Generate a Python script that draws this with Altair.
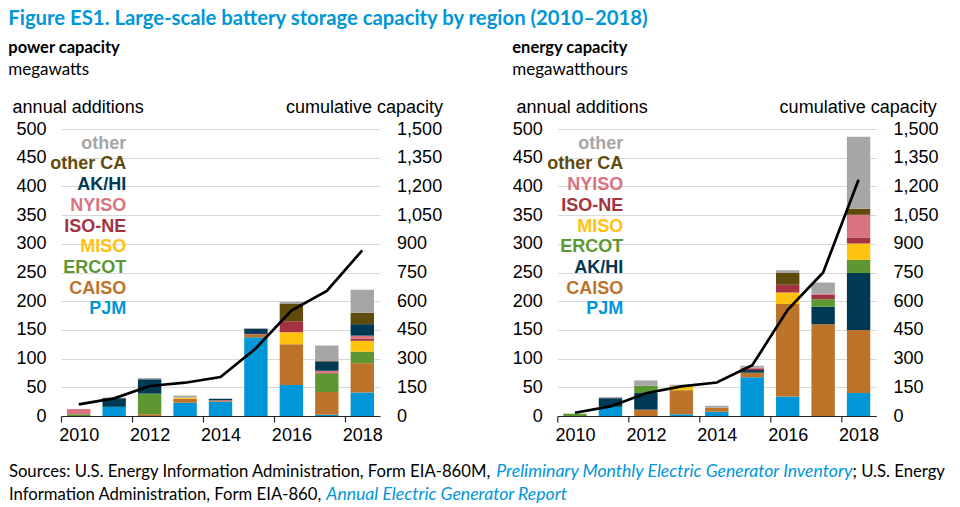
import altair as alt
import pandas as pd

years = [2010, 2011, 2012, 2013, 2014, 2015, 2016, 2017, 2018]
label_years = [2010, 2012, 2014, 2016, 2018]

# power capacity (megawatts), annual additions by region
power_pjm = [0, 16, 0, 23, 25, 137, 54, 2, 41]
power_caiso = [0, 0, 3, 7, 1, 5, 71, 40, 51]
power_ercot = [3, 0, 36, 0, 0, 0, 0, 32, 20]
power_miso = [0, 0, 0, 2, 0, 0, 21, 0, 19]
power_isone = [0, 0, 0, 0, 0, 1, 19, 2, 4]
power_nyiso = [9, 0, 0, 0, 1.5, 0, 0, 3, 5]
power_akhi = [0, 15, 25, 0, 2.5, 9, 0, 16, 20]
power_otherca = [0, 0, 0, 0, 0, 0, 30, 1, 20]
power_other = [0, 1, 2, 3.5, 0, 1, 4, 27, 40]
power_cumulative = [61, 92, 157, 174, 204, 354, 551, 654, 866]

# energy capacity (megawatthours), annual additions by region
energy_pjm = [0, 16, 0, 3, 7.5, 67.5, 34, 0, 40]
energy_caiso = [0, 0, 11, 42, 7, 8, 161, 160, 110]
energy_akhi = [0, 15, 29, 0, 0, 4.5, 0, 30.5, 99]
energy_ercot = [4, 0, 13, 0, 0, 0, 0, 13, 23]
energy_miso = [0, 0, 0, 7.5, 0, 0, 20, 0, 28.5]
energy_isone = [0, 0, 0, 0, 0, 3, 13.5, 8, 10.5]
energy_nyiso = [0, 0, 0, 0, 0, 1.5, 0, 1.5, 39.5]
energy_otherca = [0, 0, 0, 0, 0, 0, 20.5, 0, 10.5]
energy_other = [0, 2, 9, 2, 3.5, 3, 5, 19.5, 125.5]
energy_cumulative = [17, 50, 119, 155, 175, 265, 555, 750, 1235]

region_colors = {
    "PJM": "#0096D7",
    "CAISO": "#BD732A",
    "ERCOT": "#5D9732",
    "MISO": "#FFC20E",
    "ISO-NE": "#A33340",
    "NYISO": "#D9737F",
    "AK/HI": "#003953",
    "other CA": "#5F4B0B",
    "other": "#A6A6A6",
}

# stack order, bottom to top
power_series = [
    ("PJM", power_pjm), ("CAISO", power_caiso), ("ERCOT", power_ercot),
    ("MISO", power_miso), ("ISO-NE", power_isone), ("NYISO", power_nyiso),
    ("AK/HI", power_akhi), ("other CA", power_otherca), ("other", power_other),
]
energy_series = [
    ("PJM", energy_pjm), ("CAISO", energy_caiso), ("AK/HI", energy_akhi),
    ("ERCOT", energy_ercot), ("MISO", energy_miso), ("ISO-NE", energy_isone),
    ("NYISO", energy_nyiso), ("other CA", energy_otherca), ("other", energy_other),
]

TEXT_FONT = "Lato"
AXIS_FONT = "Liberation Sans"
BLUE = "#0096D7"
W, H = 319, 287
HALF_STEP = W / len(years) / 2


def long_table(series):
    rows = []
    for idx, (region, vals) in enumerate(series):
        for yr, v in zip(years, vals):
            if v > 0:
                rows.append({"year": yr, "region": region, "value": v, "idx": idx})
    return pd.DataFrame(rows)


def note(text, x, y, size, weight="normal", color="black", align="left",
         font=TEXT_FONT, style="normal"):
    return alt.Chart(pd.DataFrame({"t": [text]})).mark_text(
        align=align, baseline="alphabetic", fontSize=size, fontWeight=weight,
        font=font, color=color, fontStyle=style,
    ).encode(x=alt.value(x), y=alt.value(y), text="t:N")


def panel(series, cumulative, header, unit, legend_right, left_x, right_x, extra):
    regions = [r for r, _ in series]
    color = alt.Color("region:N", legend=None,
                      scale=alt.Scale(domain=regions, range=[region_colors[r] for r in regions]))
    x = alt.X("year:O", title=None,
              scale=alt.Scale(paddingInner=0, paddingOuter=0),
              axis=alt.Axis(values=label_years, tickOffset=-HALF_STEP, labelOffset=HALF_STEP,
                            labelAngle=0, labelPadding=4.5, tickSize=6, tickWidth=1.2,
                            tickColor="#262626", domainColor="#262626", domainWidth=1.2,
                            labelOverlap=False, labelFont=AXIS_FONT, labelFontSize=18,
                            labelColor="#000000", grid=False))

    bars = alt.Chart(long_table(series)).mark_bar(
        width=alt.RelativeBandSize(band=0.66)
    ).encode(
        x=x,
        y=alt.Y("value:Q", stack="zero", title=None,
                scale=alt.Scale(domain=[0, 500], nice=False),
                axis=alt.Axis(values=list(range(0, 501, 50)), domain=False, ticks=False,
                              tickSize=0, labelPadding=15, grid=True, gridColor="#D9D9D9",
                              gridWidth=1, labelFont=AXIS_FONT, labelFontSize=18,
                              labelColor="#000000")),
        color=color,
        order=alt.Order("idx:Q"),
    )

    line = alt.Chart(pd.DataFrame({"year": years, "cumulative": cumulative})).mark_line(
        color="black", strokeWidth=2.7
    ).encode(
        x=x,
        y=alt.Y("cumulative:Q", title=None,
                scale=alt.Scale(domain=[0, 1500], nice=False),
                axis=alt.Axis(orient="right", values=list(range(0, 1501, 150)), format=",.0f",
                              domain=False, ticks=False, tickSize=0, labelPadding=16.6,
                              grid=False, labelFont=AXIS_FONT, labelFontSize=18,
                              labelColor="#000000")),
    )

    legend = alt.Chart(
        pd.DataFrame({"region": regions[::-1], "rank": list(range(len(regions)))})
    ).transform_calculate(
        ypix="14.7 + datum.rank * 20.7"
    ).mark_text(
        align="right", baseline="middle", font=AXIS_FONT, fontSize=18, fontWeight="bold"
    ).encode(
        x=alt.value(legend_right),
        y=alt.Y("ypix:Q", scale=None, axis=None),
        text="region:N",
        color=color,
    )

    layers = [
        bars, line, legend,
        note(header, left_x, -76.4, 16.5, weight="bold"),
        note(unit, left_x, -54.3, 17),
        note("annual additions", left_x + 4.3, -16, 18, font=AXIS_FONT),
        note("cumulative capacity", right_x, -16, 18, font=AXIS_FONT, align="right"),
    ] + extra
    return alt.layer(*layers).resolve_scale(y="independent").properties(width=W, height=H)


# invisible anchor that fixes the top-left corner of the page layout
anchor = alt.Chart(pd.DataFrame({"a": [0]})).mark_rule(strokeOpacity=0).encode(
    x=alt.value(-52.7), x2=alt.value(-50), y=alt.value(-120.8)
)

FOOT = 16.7
FOOT_IT = 17.6
title_and_footer = [
    anchor,
    note("Figure ES1. Large-scale battery storage capacity by region (2010\u20132018)",
         -52.7, -104.3, 20.3, weight="bold", color=BLUE),
    note("Sources: U.S. Energy Information Administration, Form EIA-860M,", -52.1, 348, FOOT),
    note("Preliminary Monthly Electric Generator Inventory", 435.3, 348, FOOT_IT,
         color=BLUE, style="italic"),
    note("; U.S. Energy", 791.5, 348, FOOT),
    note("Information Administration, Form EIA-860,", -52.1, 371.4, FOOT),
    note("Annual Electric Generator Report", 265.3, 371.4, FOOT_IT, color=BLUE, style="italic"),
]

left = panel(power_series, power_cumulative, "power capacity", "megawatts",
             65.3, -52.7, 382, title_and_footer)
right = panel(energy_series, energy_cumulative, "energy capacity", "megawatthours",
              66, -45, 379.4, [])

chart = alt.hconcat(left, right, spacing=177.3, bounds="flush").properties(
    padding=0, background="white"
).configure_view(stroke=None)

chart.save("out.html", embed_options={"renderer": "svg", "actions": False})
